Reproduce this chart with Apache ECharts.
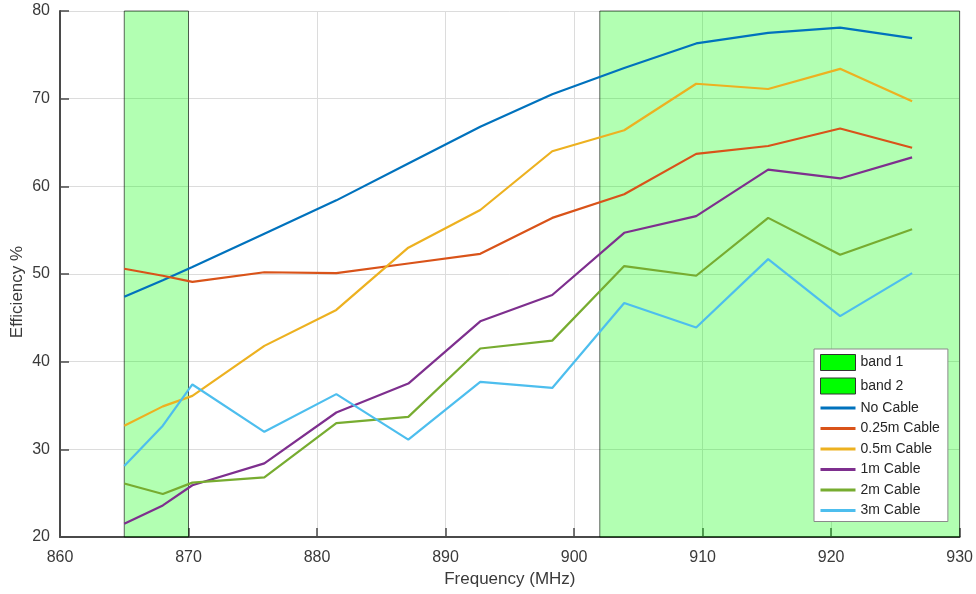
<!DOCTYPE html>
<html>
<head>
<meta charset="utf-8">
<title>Efficiency vs Frequency</title>
<script src="https://cdn.jsdelivr.net/npm/echarts@6/dist/echarts.min.js"></script>
<style>
  html, body { margin: 0; padding: 0; background: #ffffff; }
  #chart { width: 976px; height: 594px; }
</style>
</head>
<body>
<div id="chart"></div>
<script>
// Measurement frequencies (MHz)
const frequency = [865, 868, 870.3, 875.9, 881.5, 887.1, 892.7, 898.3, 903.9, 909.5, 915.1, 920.7, 926.3];

// Efficiency (%) for each cable length
const noCable   = [47.4, 49.3, 50.8, 54.6, 58.4, 62.6, 66.8, 70.5, 73.5, 76.3, 77.5, 78.1, 76.9];
const cable025  = [50.6, 49.8, 49.1, 50.2, 50.1, 51.2, 52.3, 56.4, 59.1, 63.7, 64.6, 66.6, 64.4];
const cable05   = [32.7, 34.9, 36.1, 41.8, 45.9, 53.0, 57.3, 64.0, 66.4, 71.7, 71.1, 73.4, 69.7];
const cable1    = [21.5, 23.6, 25.9, 28.4, 34.2, 37.5, 44.6, 47.6, 54.7, 56.6, 61.9, 60.9, 63.3];
const cable2    = [26.1, 24.9, 26.2, 26.8, 33.0, 33.7, 41.5, 42.4, 50.9, 49.8, 56.4, 52.2, 55.1];
const cable3    = [28.1, 32.7, 37.4, 32.0, 36.3, 31.1, 37.7, 37.0, 46.7, 43.9, 51.7, 45.2, 50.1];

// Frequency bands: [start MHz, end MHz]
const band1 = [865, 870];
const band2 = [902, 930];

// Axis ranges and ticks
const xMin = 860, xMax = 930, xStep = 10;
const yMin = 20, yMax = 80, yStep = 10;

const seriesNames = ['No Cable', '0.25m Cable', '0.5m Cable', '1m Cable', '2m Cable', '3m Cable'];
const seriesValues = [noCable, cable025, cable05, cable1, cable2, cable3];
const seriesColors = ['#0072BD', '#D95319', '#EDB120', '#7E2F8E', '#77AC30', '#4DBEEE'];

const FONT = "'Liberation Sans', Arial, Helvetica, sans-serif";
const TEXT = '#3a3a3a';
const AXIS = '#4a4a4a';

function bandSeries(name, range) {
  return {
    name: name,
    type: 'custom',
    z: 1,
    silent: true,
    itemStyle: { color: '#00ff00' },
    encode: { x: [0, 1], y: [2, 3] },
    data: [[range[0], range[1], yMin, yMax]],
    renderItem: function (params, api) {
      const p0 = api.coord([api.value(0), api.value(3)]);
      const p1 = api.coord([api.value(1), api.value(2)]);
      return {
        type: 'rect',
        shape: { x: p0[0], y: p0[1], width: p1[0] - p0[0], height: p1[1] - p0[1] },
        style: { fill: 'rgba(0,255,0,0.3)', stroke: 'rgba(0,0,0,0.6)', lineWidth: 1 }
      };
    }
  };
}

const lineSeries = seriesNames.map(function (name, i) {
  return {
    name: name,
    type: 'line',
    z: 3,
    symbol: 'none',
    smooth: false,
    color: seriesColors[i],
    lineStyle: { width: 2.2, color: seriesColors[i] },
    data: frequency.map(function (f, j) { return [f, seriesValues[i][j]]; })
  };
});

const chart = echarts.init(document.getElementById('chart'), null, { renderer: 'canvas' });

chart.setOption({
  backgroundColor: '#ffffff',
  animation: false,
  textStyle: { fontFamily: FONT },
  grid: { left: 60, right: 15, top: 11, bottom: 57, containLabel: false },
  xAxis: {
    type: 'value',
    min: xMin, max: xMax, interval: xStep,
    name: 'Frequency (MHz)',
    nameLocation: 'middle',
    nameGap: 33,
    nameTextStyle: { fontSize: 17, color: TEXT, fontFamily: FONT },
    axisLine: { show: true, onZero: false, lineStyle: { color: AXIS, width: 2 } },
    axisTick: { show: true, inside: true, length: 9, lineStyle: { color: AXIS, width: 1.5 } },
    axisLabel: { fontSize: 16, color: TEXT, margin: 13, fontFamily: FONT },
    splitLine: { show: true, lineStyle: { color: '#dcdcdc', width: 1 } }
  },
  yAxis: {
    type: 'value',
    min: yMin, max: yMax, interval: yStep,
    axisLine: { show: true, onZero: false, lineStyle: { color: AXIS, width: 2 } },
    axisTick: { show: true, inside: true, length: 9, lineStyle: { color: AXIS, width: 1.5 } },
    axisLabel: { fontSize: 16, color: TEXT, margin: 10, fontFamily: FONT },
    splitLine: { show: true, lineStyle: { color: '#dcdcdc', width: 1 } }
  },
  graphic: [{
    type: 'text',
    x: 17,
    y: 292,
    rotation: Math.PI / 2,
    style: {
      text: 'Efficiency %',
      fontSize: 17,
      fontFamily: FONT,
      fill: TEXT,
      align: 'center',
      verticalAlign: 'middle'
    }
  }],
  legend: {
    orient: 'vertical',
    left: 814,
    top: 349,
    padding: [5, 8, 4, 5],
    backgroundColor: '#ffffff',
    borderColor: '#8a8a8a',
    borderWidth: 1,
    itemWidth: 35,
    itemHeight: 16,
    itemGap: 6.5,
    selectedMode: false,
    textStyle: { fontSize: 14, color: '#262626', fontFamily: FONT },
    data: [
      { name: 'band 1', icon: 'rect', itemStyle: { color: '#00ff00', borderColor: '#333333', borderWidth: 1 } },
      { name: 'band 2', icon: 'rect', itemStyle: { color: '#00ff00', borderColor: '#333333', borderWidth: 1 } }
    ].concat(seriesNames.map(function (n, i) {
      // line-only legend keys: the marker is hidden, the stroke stays
      return { name: n, itemStyle: { opacity: 0 }, lineStyle: { color: seriesColors[i], width: 3 } };
    }))
  },
  series: [bandSeries('band 1', band1), bandSeries('band 2', band2)].concat(lineSeries)
});
</script>
</body>
</html>
